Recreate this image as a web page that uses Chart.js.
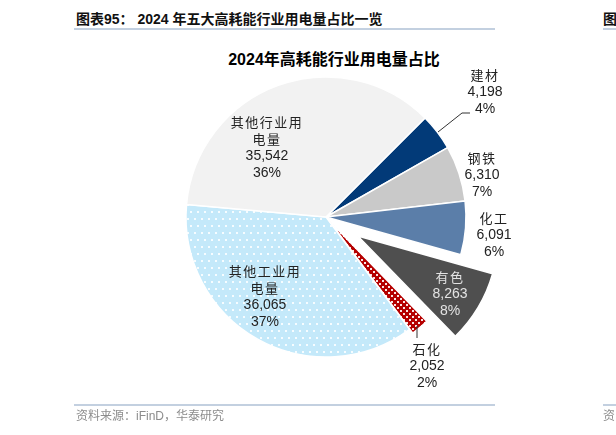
<!DOCTYPE html>
<html>
<head>
<meta charset="utf-8">
<script src="https://cdn.jsdelivr.net/npm/chart.js@4.4.1/dist/chart.umd.min.js"></script>
<style>
  html, body { margin: 0; padding: 0; background: #fff; }
  body { width: 616px; height: 435px; position: relative; overflow: hidden;
         font-family: "Liberation Sans", "Noto Sans CJK SC", sans-serif; }
  .hd { position: absolute; left: 76px; top: 9px; line-height: 20px; font-size: 14px;
        font-weight: bold; color: #111; white-space: nowrap; }
  .rule { position: absolute; height: 2px; background: #c3d0e0; }
  .ttl { position: absolute; left: 0; width: 668px; top: 50px; line-height: 20px;
         text-align: center; font-size: 16px; font-weight: bold; color: #000; }
  .src { position: absolute; left: 76px; top: 407px; line-height: 18px; font-size: 12px;
         color: #8c8c8c; white-space: nowrap; }
  #pie { position: absolute; left: 0; top: 0; }
</style>
</head>
<body>
<div class="hd">图表95：&nbsp;2024 年五大高耗能行业用电量占比一览</div>
<div class="hd" style="left:603px">图</div>
<div class="rule" style="left:74px; top:28px; width:421px"></div>
<div class="rule" style="left:603px; top:28px; width:13px"></div>
<div class="ttl">2024年高耗能行业用电量占比</div>
<canvas id="pie" width="616" height="435"></canvas>
<div class="rule" style="left:74px; top:404px; width:421px"></div>
<div class="rule" style="left:603px; top:404px; width:13px"></div>
<div class="src">资料来源：iFinD，华泰研究</div>
<div class="src" style="left:603px">资</div>

<script>
// 数据（顺时针顺序）
var categories = ["建材", "钢铁", "化工", "有色", "石化", "其他工业用电量", "其他行业用电量"];
var values = [4198, 6310, 6091, 8263, 2052, 36065, 35542];
var pctLabels = ["4%", "7%", "6%", "8%", "2%", "37%", "36%"];

// 点状填充
function dotPattern(bg, dot, w, h, s) {
  var c = document.createElement("canvas");
  c.width = w; c.height = h;
  var g = c.getContext("2d");
  g.fillStyle = bg;
  g.fillRect(0, 0, w, h);
  g.fillStyle = dot;
  g.fillRect(1, 1, s, s);
  g.fillRect(Math.round(w / 2) + 1, Math.round(h / 2) + 1, s, s);
  return g.createPattern(c, "repeat");
}

var colors = [
  "#023a78",
  "#c9c9c9",
  "#5b7ea9",
  "#4f4f4f",
  dotPattern("#b50000", "rgba(255,255,255,0.9)", 6, 6, 2),
  dotPattern("#c4e9fa", "rgba(255,255,255,0.85)", 7, 14, 2),
  "#f2f2f2"
];
// 分离距离（像素）
var explode = [0, 0, 0, 37, 5, 0, 0];

// 标签位置（相对饼图中心）
var labelAt = [[159, -125], [156, -42], [168, 18], [124, 77], [101, 149], [-61, 80], [-59, -69]];
var labelColor = ["#222", "#222", "#222", "#e3e3e3", "#222", "#222", "#222"];
var leaders = { 0: [[112, -85], [136, -104], [144, -104]], 4: [[91, 109], [91, 121]] };

function fmt(n) {
  return String(n).replace(/\B(?=(\d{3})+(?!\d))/g, ",");
}

// 把扇形沿中线方向移出
var explodePlugin = {
  id: "explode",
  afterDatasetUpdate: function (chart, args) {
    var meta = chart.getDatasetMeta(args.index);
    meta.data.forEach(function (arc, i) {
      var d = explode[i];
      if (!d) return;
      var mid = (arc.startAngle + arc.endAngle) / 2;
      arc.x += Math.cos(mid) * d;
      arc.y += Math.sin(mid) * d;
    });
  }
};

var labelPlugin = {
  id: "pieLabels",
  afterDatasetsDraw: function (chart) {
    var ctx = chart.ctx;
    var a = chart.chartArea;
    var cx = (a.left + a.right) / 2, cy = (a.top + a.bottom) / 2;
    ctx.save();
    // 引导线
    ctx.strokeStyle = "#333";
    ctx.lineWidth = 1;
    Object.keys(leaders).forEach(function (k) {
      var pts = leaders[k];
      ctx.beginPath();
      ctx.moveTo(cx + pts[0][0], cy + pts[0][1]);
      for (var j = 1; j < pts.length; j++) ctx.lineTo(cx + pts[j][0], cy + pts[j][1]);
      ctx.stroke();
    });
    ctx.textAlign = "center";
    ctx.textBaseline = "middle";
    categories.forEach(function (name, i) {
      var lines = name.length > 5 ? [name.slice(0, 5), name.slice(5)] : [name];
      var all = lines.map(function (t) { return { t: t, cjk: true }; });
      all.push({ t: fmt(values[i]), cjk: false });
      all.push({ t: pctLabels[i], cjk: false });
      var x = cx + labelAt[i][0];
      var y0 = cy + labelAt[i][1] - (all.length - 1) * 17 / 2;
      ctx.fillStyle = labelColor[i];
      all.forEach(function (ln, j) {
        if (ln.cjk) {
          ctx.font = '13px "Noto Sans CJK SC"';
          ctx.letterSpacing = "1.5px";
        } else {
          ctx.font = '14px "Liberation Sans"';
          ctx.letterSpacing = "0px";
        }
        ctx.fillText(ln.t, x, y0 + j * 17);
      });
    });
    ctx.restore();
  }
};

var ctx = document.getElementById("pie").getContext("2d");
var chart = new Chart(ctx, {
  type: "pie",
  data: {
    labels: categories,
    datasets: [{
      data: values,
      backgroundColor: colors,
      borderColor: "#ffffff",
      borderWidth: 1.5,
      radius: 140,
      clip: false
    }]
  },
  options: {
    responsive: false,
    animation: false,
    rotation: 45,
    layout: { padding: { left: 126, right: 90, top: 17, bottom: 18 } },
    plugins: {
      legend: { display: false },
      tooltip: { enabled: false }
    }
  },
  plugins: [explodePlugin, labelPlugin]
});
</script>
</body>
</html>
